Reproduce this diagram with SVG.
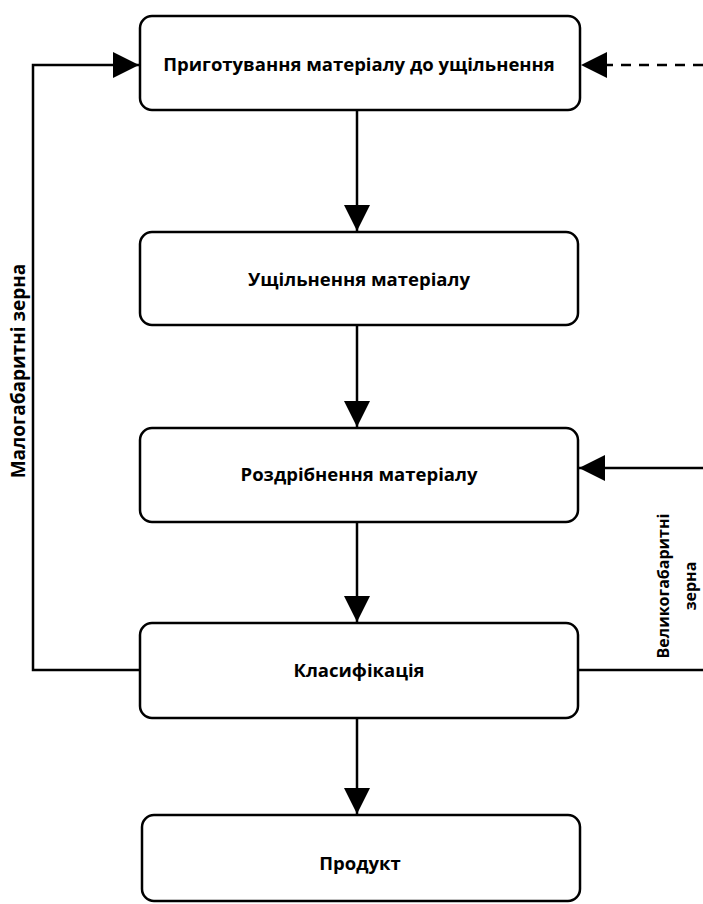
<svg xmlns="http://www.w3.org/2000/svg" width="703" height="904" viewBox="0 0 703 904">
<style>
.box{fill:#fff;stroke:#000;stroke-width:2.5}
.lbl{font-family:"Open Sans","Liberation Sans",sans-serif;font-weight:bold;font-size:18.5px;fill:#000;text-anchor:middle}
.side{font-family:"Open Sans","Liberation Sans",sans-serif;font-weight:bold;font-size:19px;fill:#000;text-anchor:middle}
.side2{font-family:"Open Sans","Liberation Sans",sans-serif;font-weight:bold;font-size:16px;fill:#000;text-anchor:middle}
.ln{fill:none;stroke:#000;stroke-width:2.5}
.dash{fill:none;stroke:#000;stroke-width:2.5;stroke-dasharray:10,8}
</style>
<defs>
<marker id="ah" markerUnits="userSpaceOnUse" markerWidth="26" markerHeight="26" refX="26" refY="13" orient="auto">
<path d="M0,0 L26,13 L0,26 Z" fill="#000"/>
</marker>
</defs>
<rect width="703" height="904" fill="#fff"/>
<g id="connectors">
<path class="ln" d="M357,110 V231" marker-end="url(#ah)"/>
<path class="ln" d="M357,325 V427" marker-end="url(#ah)"/>
<path class="ln" d="M357,522 V622" marker-end="url(#ah)"/>
<path class="ln" d="M357,718 V814" marker-end="url(#ah)"/>
<path class="ln" d="M140,670 H33 V65 H139" marker-end="url(#ah)"/>
<path class="ln" d="M578,670 H703"/>
<path class="ln" d="M703,468 H579" marker-end="url(#ah)"/>
<path class="dash" d="M703,65 H581" marker-end="url(#ah)"/>
</g>
<g id="n1"><rect class="box" x="140" y="16" width="440" height="94" rx="12"/><text class="lbl" x="359" y="71">Приготування матеріалу до ущільнення</text></g>
<g id="n2"><rect class="box" x="140" y="232" width="438" height="93" rx="12"/><text class="lbl" x="359" y="286">Ущільнення матеріалу</text></g>
<g id="n3"><rect class="box" x="140" y="428" width="438" height="94" rx="12"/><text class="lbl" x="359" y="481">Роздрібнення матеріалу</text></g>
<g id="n4"><rect class="box" x="140" y="623" width="438" height="95" rx="12"/><text class="lbl" x="359" y="677">Класифікація</text></g>
<g id="n5"><rect class="box" x="142" y="815" width="438" height="86" rx="12"/><text class="lbl" x="360" y="870">Продукт</text></g>
<g id="labels">
<text class="side" transform="translate(25,371) rotate(-90)">Малогабаритні зерна</text>
<text class="side2" transform="translate(669,586) rotate(-90)">Великогабаритні</text>
<text class="side2" transform="translate(696,586) rotate(-90)">зерна</text>
</g>
</svg>
